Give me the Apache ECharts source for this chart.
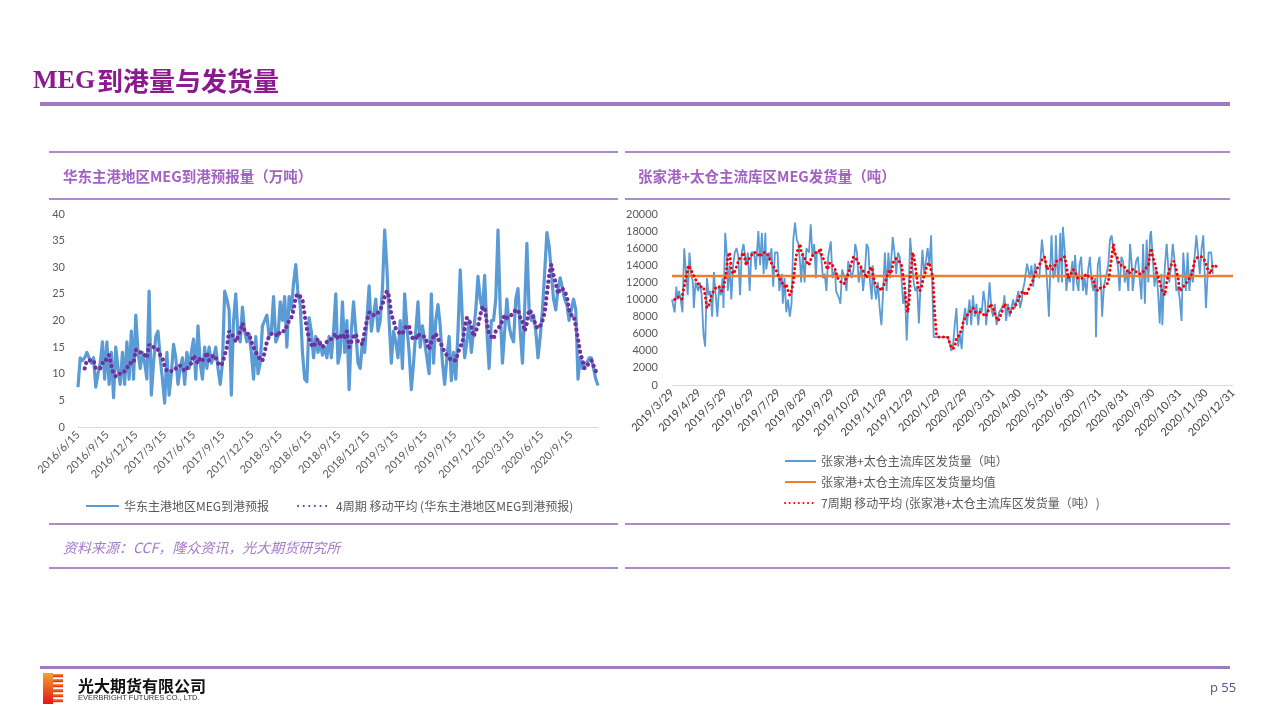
<!DOCTYPE html>
<html><head><meta charset="utf-8">
<script src="https://cdn.jsdelivr.net/npm/echarts@6/dist/echarts.min.js"></script>
<style>html,body{margin:0;padding:0;background:#fff}#c{width:1280px;height:719px}</style>
</head><body><div id="c"></div><script>
// ---------- Left chart data (weekly, starting 2016/6/15) ----------
const leftStart = [2016, 6, 15];
const leftDayCount = 1639; // daily category span 2016/6/15 .. 2020/12/9
const leftTickLabels = ['2016/6/15','2016/9/15','2016/12/15','2017/3/15','2017/6/15','2017/9/15','2017/12/15','2018/3/15','2018/6/15','2018/9/15','2018/12/15','2019/3/15','2019/6/15','2019/9/15','2019/12/15','2020/3/15','2020/6/15','2020/9/15'];
const arrivalWeekly = [7.5,13,12.5,13,14,13,12,13,7.5,10,
 12,16,9,16,8,14,5.5,15,11,8,
 14,8,16,9,18,9,21,14,11,14,
 12,9,25.5,6,12,17,18,13,9,4.5,
 14,6,10,15.5,13,8,11,13,8,14,
 11,14,16.5,9,19,12,9,15,11,15,
 12,13,15,11,8,12,25.5,24,22,6,
 20,25,17,16,22.5,18,16,17.5,14,9,
 17,10,12,19,20,21,17,18,24.5,16,
 17,23.5,20,24.5,15,24.5,22,27,30.5,25,
 23,14,9,8.5,20.5,18,13,17,14,16,
 13.5,15,13,17,13,18,25,12,14,23.5,
 14,20,7,18,23.5,18,12,11,16,14,
 20,26.5,18,21,24,18,20,26,37,30,
 20,12,18,16,13,20,11,25,19,14,
 7,12,18,23.5,15,19,16,13,10,25,
 12,20,23,19,12,8,13,17,8.7,14,
 9,18,29.5,20,13,16,20,14,18,22,
 28.3,24,22,28.5,18,11,20,20,24,37,
 22,12,18,24,19,17,16,24,26,18,
 12,22,34.5,22,20,21,18,13,17,22,
 29,36.5,34,29,24,22,26,28,26,24,
 23,20,22,24,22,9,13,11,12,12,
 13,13,11,9,7.8];
const arrivalMA4 = [null,null,null,
 11,12.5,12.5,12.5,12.5,11,11,11,12,12,
 13,13.5,11.5,10,9.5,10,10,10,10.5,11,
 12,12,12,14.5,14,14,14,13.5,13,15.5,
 15,15,15,14.5,13.5,13,11.5,10.5,10.5,10.5,
 10.5,11,11.5,11.5,11,10.5,11,11.5,12,13.5,
 12.5,12,13,12.5,13,14,12.5,13,13.5,13,
 12,11.5,12,13.5,15,18,17.5,17,16,17,
 18,19.5,18,17.5,17.5,16,15,14,13.5,12.5,
 12.5,14,16,17,17.5,17.5,17.5,17,18,18,
 18,19,20,20.5,22,24.5,25,24.5,24,21,
 18.5,16.5,15.5,15,16,16.5,15.5,15,15.5,16,
 16.5,16.5,17,17.5,16.5,17,17.5,16.5,18,15,
 16,17,17.5,16,16,15.5,18,20,21.5,21.5,
 21,21,21.5,22,23,24.5,25.5,24.5,21,20,
 18.5,18,17.5,17.5,18.5,19,19,17,16.5,16.5,
 17.5,17,17,17,16,14.5,16,17,17.5,16.5,
 16,15,14,13.5,13,12.5,12.5,12.5,14,15,
 16,18.5,20.5,20,19,17,18,19,21,22.5,
 22.5,19.5,17.5,17,16.5,18,18.5,19,20,21,
 20.5,21,21,21.5,22,22,20.5,20,18,19.5,
 22,21.5,20.5,19,18.5,19,20,21.5,25,28.5,
 30.5,28.5,27,25,26,26,25.5,24.5,22,21,
 21,19,16.5,14,12.5,11,11.5,12,12.5,11.5,
 10.5,10];

// ---------- Right chart data (days since 2019/3/29) ----------
const rightStart = [2019, 3, 29];
const rightDayCount = 644; // 2019/3/29 .. 2020/12/31
const rightTickLabels = ['2019/3/29','2019/4/29','2019/5/29','2019/6/29','2019/7/29','2019/8/29','2019/9/29','2019/10/29','2019/11/29','2019/12/29','2020/1/29','2020/2/29','2020/3/31','2020/4/30','2020/5/31','2020/6/30','2020/7/31','2020/8/31','2020/9/30','2020/10/31','2020/11/30','2020/12/31'];
const shipDays = [0,3,5,6,8,10,12,14,16,18,20,22,24,25,27,30,32,34,36,38,40,42,44,46,48,50,52,54,56,58,59,61,63,64,66,68,70,72,74,76,78,80,82,85,87,89,91,94,96,99,101,103,105,107,108,111,112,114,116,118,121,123,126,127,129,131,133,135,137,139,141,143,145,147,148,150,152,154,157,159,161,163,165,166,169,171,173,175,177,179,182,184,187,188,192,193,195,198,200,202,204,206,208,210,212,214,217,219,221,223,225,227,229,230,232,234,236,238,240,242,244,246,248,250,253,255,257,259,261,263,265,267,268,269,271,273,275,277,279,281,283,285,287,289,291,293,295,297,299,300,316,318,320,322,324,326,328,330,332,334,336,338,339,341,343,345,347,349,351,353,355,357,359,360,362,364,366,368,370,372,375,378,380,381,383,385,387,389,391,393,395,397,399,401,402,404,407,410,412,414,416,418,421,422,424,426,428,430,432,434,435,437,439,440,441,443,445,447,448,450,452,454,456,459,460,462,464,466,467,469,471,473,475,477,479,481,483,485,486,487,488,490,492,493,495,496,498,500,502,504,505,507,509,511,513,515,517,519,521,523,525,527,528,530,532,534,536,538,540,542,544,546,548,549,551,553,555,557,559,561,562,564,565,567,569,570,572,574,576,578,580,582,584,586,588,589,591,593,595,597,599,601,603,605,607,609,610,612,613,615,616,618,620];
const shipValues = [10000,8500,11500,10000,11000,10000,8500,16000,15800,10500,15500,13000,12000,9000,12000,11000,12000,10500,6000,4500,12500,10500,11000,8000,13200,13000,8000,11500,10500,12500,9000,17800,15000,11000,14000,10000,14000,15500,16000,15000,10500,15500,16500,14000,15500,11000,15500,15500,13500,18000,14000,17800,13000,17800,13500,15500,14500,16000,11500,15500,15500,11000,13000,9500,12500,8500,10000,8000,9500,17000,19000,17000,16500,14000,12000,15500,12000,16000,15500,18800,15000,16500,12500,15500,15500,15000,12500,13000,11000,15000,16800,12500,13500,11000,10000,9500,13500,12500,11000,14500,14500,12500,13500,16500,15500,12000,14000,11000,13000,16500,16000,12000,10000,14000,11500,10000,12000,9000,7000,11000,15500,11000,15500,12500,17300,15500,13000,15500,15000,12500,9500,11000,8000,5200,10000,17200,17000,12000,11000,11500,7200,12000,15800,13000,14500,16000,14000,17500,9000,5600,5600,5000,4000,4500,7000,9000,4500,6000,4200,7500,9000,7000,8000,10000,7000,10500,8000,9500,7000,9000,8500,11000,9500,7000,9000,12000,9000,8000,9500,7000,8500,9000,9500,10500,7500,9500,8000,9000,10000,9000,10000,11000,9000,10000,11000,12000,14200,12500,14000,11500,14200,13000,12500,14000,17000,15000,14500,12000,8000,15000,17500,12500,13000,17500,14500,12000,17800,12000,18500,16000,11000,13000,12000,14500,11000,15200,12000,11000,14000,15000,11000,12500,10500,13500,15000,12000,11000,12500,5600,10500,14000,15000,11000,8000,11500,12000,12000,14000,17000,17500,16500,15500,15000,14000,11000,15000,14500,12000,13500,11000,16500,14000,11000,13000,14500,15000,12500,10000,16500,9500,17000,12000,17500,18000,15000,11500,13500,11000,7200,13000,7000,12000,14000,16500,16500,12000,14000,16500,14500,11000,11500,10000,7500,15500,12500,11000,15500,11000,13500,12000,15000,17500,17500,13000,16000,17500,14500,9000,11000,15500,15500,15500,13000];
const shipMean = 12750;
const maDays = [3,7,11,13,15,17,19,21,24,26,29,32,36,38,40,43,45,48,51,54,57,59,62,64,66,68,70,73,76,79,82,85,87,90,93,97,101,104,108,111,115,119,123,126,129,131,133,135,137,139,141,143,145,147,148,151,154,157,160,164,168,170,172,175,178,181,184,187,190,194,197,199,202,205,208,211,215,218,221,223,226,229,231,234,237,240,242,246,249,251,254,257,260,263,266,268,270,272,273,276,278,280,282,284,286,288,290,292,295,299,301,303,305,316,318,320,322,324,326,329,332,334,337,341,345,348,351,355,359,362,365,368,371,374,378,381,385,388,391,395,399,402,406,408,410,413,416,418,421,423,427,430,433,436,439,441,444,447,450,452,454,457,460,463,465,468,471,475,479,482,485,488,492,496,500,502,504,506,507,510,513,517,521,524,527,530,534,538,542,546,548,549,551,554,556,559,562,565,567,570,572,575,578,580,582,586,590,593,596,599,603,607,611,614,617,620,623,625];
const maValues = [10000,10300,10000,11000,12100,13000,14000,14200,13000,12500,12000,11500,11500,10500,9000,9500,10500,11000,11500,11500,11000,11500,13000,15000,15500,13500,13000,13500,14500,15000,15500,14000,14500,15000,15500,15500,15000,15500,15500,15000,14000,13500,12500,12000,11500,11800,11000,10500,11000,12000,14000,15500,16000,16500,15500,15000,14500,14000,15000,15500,15500,16000,15000,14500,13500,14300,14000,13500,12500,12000,11800,12000,13000,14000,15000,14800,14000,13500,13000,12500,13500,13800,12500,11500,11500,11000,11500,12500,13500,13000,14500,14800,14500,14000,12000,10000,8500,10000,12500,15500,14500,13000,11500,11000,11500,12500,13000,14000,14300,12500,8500,6000,5600,5600,5000,4500,4200,4500,5500,5800,6500,7500,8000,8500,9000,8500,8500,8500,8000,8500,9500,9000,8000,7500,8500,9500,9000,8500,9000,9500,10500,11000,10500,10500,11500,12000,13000,13500,14000,14500,15000,13500,14000,13500,14000,14500,14500,14800,15000,14000,12500,13000,13500,13000,12500,12500,12500,13000,12500,12500,11500,11000,11500,11500,12000,13500,15000,16500,15500,15000,14000,14000,13500,13000,13500,13500,13000,13000,13500,14000,15500,16000,15000,14000,13000,12000,10900,10500,12000,13500,14000,14500,13500,12500,11000,11500,12000,12500,13000,14500,15000,15000,14500,13500,13000,14000,14000,13500];

// ---------- helpers ----------
function fmt(d){return d.getUTCFullYear()+'/'+(d.getUTCMonth()+1)+'/'+d.getUTCDate();}
function dayList(s,n){const t0=Date.UTC(s[0],s[1]-1,s[2]);const out=[];for(let i=0;i<n;i++)out.push(fmt(new Date(t0+i*864e5)));return out;}
const leftCats = dayList(leftStart, leftDayCount);
const rightCats = dayList(rightStart, rightDayCount);
const arrivalPts = arrivalWeekly.map((v,i)=>[leftCats[i*7], v]);
const arrivalMAPts = arrivalMA4.map((v,i)=>[leftCats[i*7], v]).filter(p=>p[1]!==null);
const shipPts = shipDays.map((d,i)=>[rightCats[d], shipValues[i]]);
const shipMAPts = maDays.map((d,i)=>[rightCats[d], maValues[i]]);
const meanPts = [[rightCats[0], shipMean],[rightCats[rightCats.length-1], shipMean]];

const FONT = 'Lato, "Noto Sans CJK SC", sans-serif';
const CJK = '"Noto Sans CJK SC", sans-serif';
const axisLbl = {color:'#595959', fontSize:11, fontFamily:FONT};
const purpleLine = '#AB8BCB';

const chart = echarts.init(document.getElementById('c'), null, {renderer:'canvas'});
const g = [];
function rect(x,y,w,h,fill){g.push({type:'rect',silent:true,shape:{x,y,width:w,height:h},style:{fill}});}
function text(x,y,t,font,fill,extra){g.push({type:'text',silent:true,x,y,style:Object.assign({text:t,font,fill,textVerticalAlign:'middle'},extra||{})});}
// title
text(33,81,'MEG','bold 26px "Liberation Serif", serif','#8B1A8E');
text(97,81,'到港量与发货量','bold 26px '+CJK,'#8B1A8E');
rect(40,102,1190,4,'#9E7BBF');
// panel lines
[152,199,524,568].forEach(y=>{rect(49,y-1,569,2,purpleLine);rect(625,y-1,605,2,purpleLine);});
text(63,176,'华东主港地区MEG到港预报量（万吨）','bold 14.5px '+CJK,'#A262C2');
text(638,176,'张家港+太仓主流库区MEG发货量（吨）','bold 14.5px '+CJK,'#A262C2');
text(63,548,'资料来源：CCF，隆众资讯，光大期货研究所','italic 14px '+CJK,'#A77BC8');
// footer
rect(40,666,1190,3,'#9E7BBF');
const grad = new echarts.graphic.LinearGradient(0,0,0,1,[{offset:0,color:'#F6A02C'},{offset:1,color:'#E5141B'}]);
g.push({type:'rect',silent:true,shape:{x:43,y:673,width:10,height:31},style:{fill:grad}});
[674,679,684,689,694,699].forEach(y=>g.push({type:'rect',silent:true,shape:{x:53,y:y,width:10,height:3.2},style:{fill:grad}}));
text(78,686,'光大期货有限公司','bold 16px '+CJK,'#111');
text(78,698,'EVERBRIGHT FUTURES CO., LTD.','7.5px "Liberation Sans", sans-serif','#333');
text(1210,688,'p 55','13px "Open Sans", sans-serif','#5F4B8B');

const legendCommon = {padding:0, itemHeight:10, textStyle:{color:'#595959',fontSize:12,fontFamily:CJK}, itemStyle:{opacity:0}};
const option = {
  animation:false,
  backgroundColor:'#fff',
  graphic:g,
  grid:[
    {left:78, top:214, width:520, height:213},
    {left:672, top:214, width:561, height:171}
  ],
  xAxis:[
    {type:'category', gridIndex:0, data:leftCats, boundaryGap:false,
     axisLine:{lineStyle:{color:'#D9D9D9',width:1}}, axisTick:{show:false},
     axisLabel:Object.assign({rotate:45, margin:6, interval:(i,v)=>leftTickLabels.indexOf(v)>=0},axisLbl)},
    {type:'category', gridIndex:1, data:rightCats, boundaryGap:false,
     axisLine:{lineStyle:{color:'#D9D9D9',width:1}}, axisTick:{show:false},
     axisLabel:Object.assign({rotate:45, margin:6, interval:(i,v)=>rightTickLabels.indexOf(v)>=0},axisLbl,{color:'#404040'})}
  ],
  yAxis:[
    {type:'value', gridIndex:0, min:0, max:40, interval:5, splitLine:{show:false},
     axisLine:{show:false}, axisTick:{show:false}, axisLabel:Object.assign({margin:13},axisLbl)},
    {type:'value', gridIndex:1, min:0, max:20000, interval:2000, splitLine:{show:false},
     axisLine:{show:false}, axisTick:{show:false}, axisLabel:Object.assign({margin:14, formatter:v=>String(v)},axisLbl)}
  ],
  legend:[
    Object.assign({left:85, top:500, itemWidth:33, itemGap:28,
     data:['华东主港地区MEG到港预报','4周期 移动平均 (华东主港地区MEG到港预报)']},legendCommon),
    Object.assign({left:784, top:455, itemWidth:31, orient:'vertical', itemGap:9,
     data:['张家港+太仓主流库区发货量（吨）','张家港+太仓主流库区发货量均值','7周期 移动平均 (张家港+太仓主流库区发货量（吨）)']},legendCommon)
  ],
  series:[
    {name:'华东主港地区MEG到港预报', type:'line', xAxisIndex:0, yAxisIndex:0, data:arrivalPts, symbol:'none',
     lineStyle:{color:'#5B9BD5', width:3.2, join:'round'}, itemStyle:{color:'#5B9BD5'}},
    {name:'4周期 移动平均 (华东主港地区MEG到港预报)', type:'line', xAxisIndex:0, yAxisIndex:0, data:arrivalMAPts, symbol:'none',
     lineStyle:{color:'#7030A0', width:4.2, type:[0.1,5.5], cap:'round'}, itemStyle:{color:'#7030A0'}},
    {name:'张家港+太仓主流库区发货量（吨）', type:'line', xAxisIndex:1, yAxisIndex:1, data:shipPts, symbol:'none',
     lineStyle:{color:'#5B9BD5', width:1.8}, itemStyle:{color:'#5B9BD5'}},
    {name:'张家港+太仓主流库区发货量均值', type:'line', xAxisIndex:1, yAxisIndex:1, data:meanPts, symbol:'none',
     lineStyle:{color:'#ED7D31', width:2.5}, itemStyle:{color:'#ED7D31'}},
    {name:'7周期 移动平均 (张家港+太仓主流库区发货量（吨）)', type:'line', xAxisIndex:1, yAxisIndex:1, data:shipMAPts, symbol:'none',
     lineStyle:{color:'#FF0000', width:3, type:[0.1,4.5], cap:'round'}, itemStyle:{color:'#FF0000'}}
  ]
};
chart.setOption(option);
</script></body></html>
